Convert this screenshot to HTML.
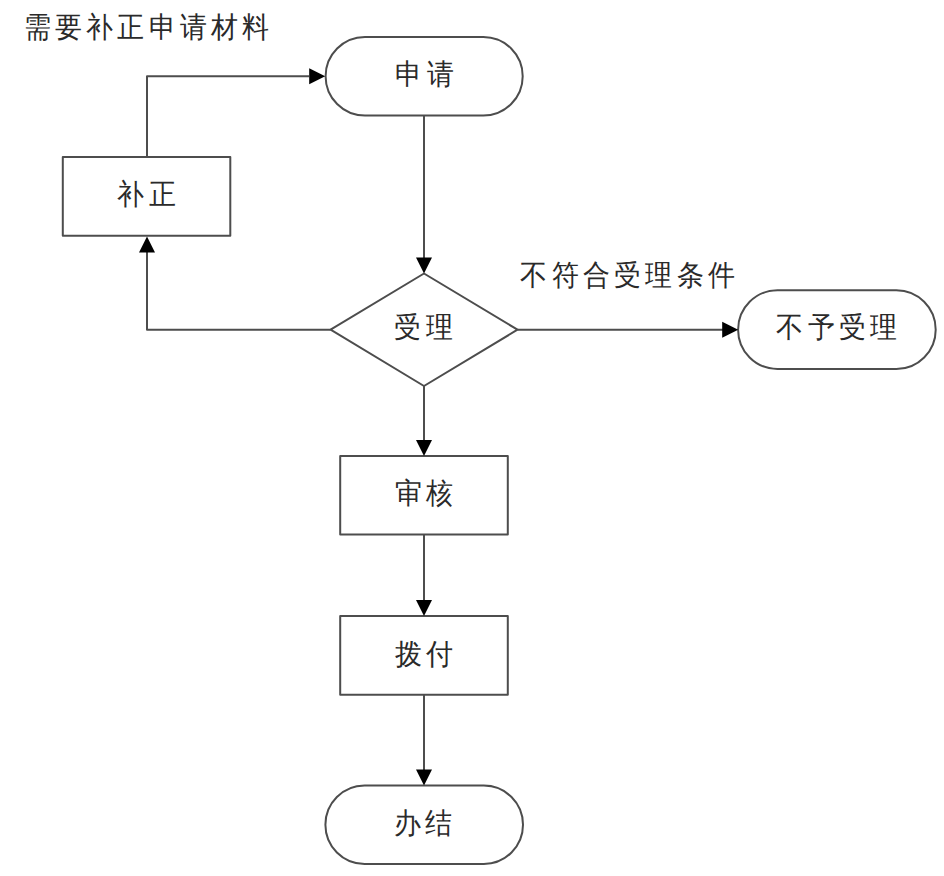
<!DOCTYPE html>
<html><head><meta charset="utf-8"><style>
html,body{margin:0;padding:0;background:#fff;width:944px;height:876px;overflow:hidden}
svg{display:block}
.s{fill:none;stroke:#4d4d4d;stroke-width:2;stroke-linejoin:round}
.l{fill:none;stroke:#4d4d4d;stroke-width:2;stroke-linejoin:round}
.ah{fill:#000;stroke:none}
text{font-family:"Liberation Sans",sans-serif;fill:#2a2a2a}
</style></head><body>
<svg width="944" height="876" viewBox="0 0 944 876">
<rect x="325.60" y="36.90" width="197.10" height="78.70" rx="39.35" ry="39.35" class="s"/>
<rect x="62.80" y="157.00" width="167.50" height="78.70" class="s"/>
<path d="M424 273.5L517.5 329.7L424 386L330.6 329.7Z" class="s"/>
<rect x="738.10" y="290.25" width="197.60" height="78.75" rx="39.38" ry="39.38" class="s"/>
<rect x="340.20" y="455.90" width="167.60" height="78.50" class="s"/>
<rect x="340.20" y="616.10" width="167.60" height="78.60" class="s"/>
<rect x="325.40" y="785.60" width="197.60" height="78.40" rx="39.20" ry="39.20" class="s"/>
<path d="M424 115.6V258" class="l"/>
<path d="M424.00 273.50L416.00 257.50L432.00 257.50Z" class="ah"/>
<path d="M330.6 329.7H147V252" class="l"/>
<path d="M147.00 236.50L139.00 252.50L155.00 252.50Z" class="ah"/>
<path d="M147 157V76.2H309" class="l"/>
<path d="M325.20 76.20L309.20 68.20L309.20 84.20Z" class="ah"/>
<path d="M517.5 329.7H723" class="l"/>
<path d="M738.20 329.70L722.20 321.70L722.20 337.70Z" class="ah"/>
<path d="M424 386V441" class="l"/>
<path d="M424.00 455.90L416.00 439.90L432.00 439.90Z" class="ah"/>
<path d="M424 534.4V601" class="l"/>
<path d="M424.00 616.10L416.00 600.10L432.00 600.10Z" class="ah"/>
<path d="M424 694.7V770" class="l"/>
<path d="M424.00 785.60L416.00 769.60L432.00 769.60Z" class="ah"/>
<text transform="scale(0.930 1)" x="25.42 59.02 92.62 126.23 159.83 193.43 227.03 260.63" y="37.30" font-size="29">需要补正申请材料</text>
<text transform="scale(0.930 1)" x="425.15 458.75" y="84.50" font-size="29">申请</text>
<text transform="scale(0.930 1)" x="126.23 159.83" y="204.50" font-size="29">补正</text>
<text transform="scale(0.930 1)" x="424.08 457.68" y="337.50" font-size="29">受理</text>
<text transform="scale(0.930 1)" x="559.42 593.03 626.63 660.23 693.83 727.44 761.04" y="285.50" font-size="29">不符合受理条件</text>
<text transform="scale(0.930 1)" x="834.88 868.48 902.09 935.69" y="337.00" font-size="29">不予受理</text>
<text transform="scale(0.930 1)" x="424.61 458.22" y="503.30" font-size="29">审核</text>
<text transform="scale(0.930 1)" x="424.61 458.22" y="664.30" font-size="29">拨付</text>
<text transform="scale(0.930 1)" x="423.54 457.14" y="833.40" font-size="29">办结</text>
</svg>
</body></html>
